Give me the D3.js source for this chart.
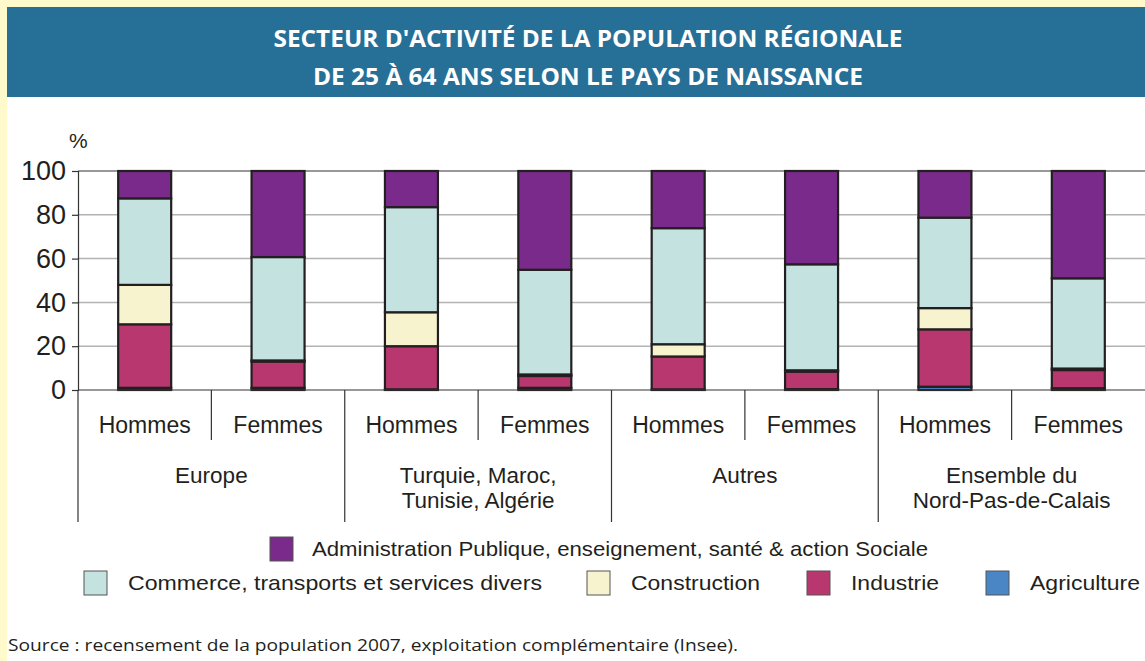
<!DOCTYPE html>
<html>
<head>
<meta charset="utf-8">
<script src="https://cdn.jsdelivr.net/npm/d3@7"></script>
<style>
  body { margin: 0; background: #fff; }
  svg { display: block; }
</style>
</head>
<body>
<div id="chart"></div>
<script>
// groups and sexes
const regions = ["Europe", "Turquie, Maroc,\nTunisie, Algérie", "Autres", "Ensemble du\nNord-Pas-de-Calais"];
const sexes = ["Hommes", "Femmes"];

// sectors, bottom to top
const sectors = ["Agriculture", "Industrie", "Construction", "Commerce, transports et services divers", "Administration Publique, enseignement, santé & action Sociale"];
const sectorColors = ["#4a86c6", "#b8376f", "#f8f3cf", "#c3e2e0", "#7a2a8a"];

// values in %, one array per sector, order: Europe H, Europe F, Turquie H, Turquie F, Autres H, Autres F, Ensemble H, Ensemble F
const agriculture = [1.0, 1.0, 0.3, 1.0, 0.3, 0.4, 1.5, 0.8];
const industrie = [29.0, 12.0, 19.7, 5.4, 15.0, 8.0, 26.2, 8.3];
const construction = [18.0, 0.5, 15.5, 0.7, 5.6, 0.6, 9.7, 0.7];
const commerce = [39.5, 47.2, 48.0, 47.8, 53.0, 48.4, 41.3, 41.2];
const administration = [12.5, 39.3, 16.5, 45.1, 26.1, 42.6, 21.3, 49.0];

const yTicks = [0, 20, 40, 60, 80, 100];

const title1 = "SECTEUR D'ACTIVITÉ DE LA POPULATION RÉGIONALE";
const title2 = "DE 25 À 64 ANS SELON LE PAYS DE NAISSANCE";
const source = "Source : recensement de la population 2007,  exploitation complémentaire (Insee).";

const W = 1145, H = 661;
const svg = d3.select("#chart").append("svg").attr("width", W).attr("height", H);

// frame: pale yellow border + title band
svg.append("rect").attr("width", W).attr("height", H).attr("fill", "#fffacb");
svg.append("rect").attr("x", 7).attr("y", 7).attr("width", W - 7).attr("height", H - 7).attr("fill", "#fff");
svg.append("rect").attr("x", 7).attr("y", 7).attr("width", W - 7).attr("height", 90).attr("fill", "#266f97");

svg.append("text").attr("x", 588).attr("y", 47).attr("text-anchor", "middle")
  .attr("font-family", "Open Sans").attr("font-weight", "bold").attr("font-size", 24)
  .attr("fill", "#fff").attr("textLength", 629).attr("lengthAdjust", "spacingAndGlyphs").text(title1);
svg.append("text").attr("x", 588).attr("y", 85).attr("text-anchor", "middle")
  .attr("font-family", "Open Sans").attr("font-weight", "bold").attr("font-size", 24)
  .attr("fill", "#fff").attr("textLength", 550).attr("lengthAdjust", "spacingAndGlyphs").text(title2);

// build rows
const bars = [];
regions.forEach((r, i) => sexes.forEach((s, j) => bars.push({ id: i * 2 + j, region: r, sex: s })));
const series = [agriculture, industrie, construction, commerce, administration];
const table = bars.map((b, k) => {
  const row = { id: b.id };
  sectors.forEach((s, si) => row[s] = series[si][k]);
  return row;
});
const stacked = d3.stack().keys(sectors)(table);

const plotLeft = 78, plotRight = 1145, plotTop = 171, plotBottom = 390;
const x = d3.scaleBand().domain(bars.map(d => d.id)).range([plotLeft, plotRight]);
const y = d3.scaleLinear().domain([0, 100]).range([plotBottom, plotTop]);
const color = d3.scaleOrdinal().domain(sectors).range(sectorColors);
const barW = 53;

const font = "Liberation Sans, Arial, sans-serif";

// gridlines
svg.append("g").selectAll("line").data(yTicks.filter(t => t > 0 && t < 100)).join("line")
  .attr("x1", plotLeft).attr("x2", plotRight).attr("y1", d => y(d)).attr("y2", d => y(d))
  .attr("stroke", "#b3b3b3").attr("stroke-width", 1.5);
svg.append("line").attr("x1", plotLeft).attr("x2", plotRight).attr("y1", y(100)).attr("y2", y(100))
  .attr("stroke", "#333").attr("stroke-width", 1.2);

// y axis
const yAxis = svg.append("g").attr("transform", `translate(${plotLeft},0)`)
  .call(d3.axisLeft(y).tickValues(yTicks).tickSize(6).tickPadding(6));
yAxis.select(".domain").attr("stroke", "#333").attr("stroke-width", 1.2);
yAxis.selectAll(".tick line").attr("stroke", "#333").attr("stroke-width", 1.2);
yAxis.selectAll(".tick text").attr("font-family", font).attr("font-size", 27).attr("fill", "#231f20");

svg.append("text").attr("x", 69).attr("y", 148).attr("font-family", font).attr("font-size", 21)
  .attr("fill", "#231f20").text("%");

// bars
svg.append("g").selectAll("g").data(stacked).join("g")
  .attr("fill", d => color(d.key))
  .selectAll("rect").data(d => d).join("rect")
  .attr("x", d => x(d.data.id) + (x.bandwidth() - barW) / 2)
  .attr("width", barW)
  .attr("y", d => y(d[1]))
  .attr("height", d => y(d[0]) - y(d[1]))
  .attr("stroke", "#231f20").attr("stroke-width", 2.2);

// baseline
svg.append("line").attr("x1", plotLeft).attr("x2", plotRight).attr("y1", plotBottom).attr("y2", plotBottom)
  .attr("stroke", "#333").attr("stroke-width", 1.2);

// category separators
const seps = svg.append("g").attr("stroke", "#333").attr("stroke-width", 1.2);
bars.forEach(b => {
  const xs = x(b.id);
  const major = b.id % 2 === 0;
  seps.append("line").attr("x1", xs).attr("x2", xs).attr("y1", plotBottom).attr("y2", major ? 522 : 440);
});

// sex labels
svg.append("g").selectAll("text").data(bars).join("text")
  .attr("x", d => x(d.id) + x.bandwidth() / 2).attr("y", 433)
  .attr("text-anchor", "middle").attr("font-family", font).attr("font-size", 23)
  .attr("fill", "#231f20").text(d => d.sex);

// region labels
regions.forEach((r, i) => {
  const cx = x(i * 2) + x.bandwidth();
  const lines = r.split("\n");
  const t = svg.append("text").attr("text-anchor", "middle").attr("font-family", font)
    .attr("font-size", 22.5).attr("fill", "#231f20");
  lines.forEach((l, k) => t.append("tspan").attr("x", cx).attr("y", 483 + k * 25).text(l));
});

// legend
const legendPos = [
  { key: sectors[4], x: 270, y: 537, len: 616 },
  { key: sectors[3], x: 84, y: 571, len: 414 },
  { key: sectors[2], x: 587, y: 571, len: 129 },
  { key: sectors[1], x: 807, y: 571, len: 88 },
  { key: sectors[0], x: 986, y: 571, len: 110 }
];
const legend = svg.append("g").selectAll("g").data(legendPos).join("g")
  .attr("transform", d => `translate(${d.x},${d.y})`);
legend.append("rect").attr("width", 23).attr("height", 24)
  .attr("fill", d => color(d.key)).attr("stroke", "#555").attr("stroke-width", 1);
legend.append("text").attr("x", d => d.key === sectors[4] ? 42 : 44)
  .attr("y", 19).attr("font-family", font).attr("font-size", 21).attr("fill", "#231f20")
  .attr("textLength", d => d.len).attr("lengthAdjust", "spacingAndGlyphs")
  .text(d => d.key);

// source
svg.append("text").attr("x", 8).attr("y", 651).attr("font-family", "Open Sans").attr("font-size", 16.5)
  .attr("fill", "#231f20").attr("textLength", 730).attr("lengthAdjust", "spacingAndGlyphs").text(source);
</script>
</body>
</html>
